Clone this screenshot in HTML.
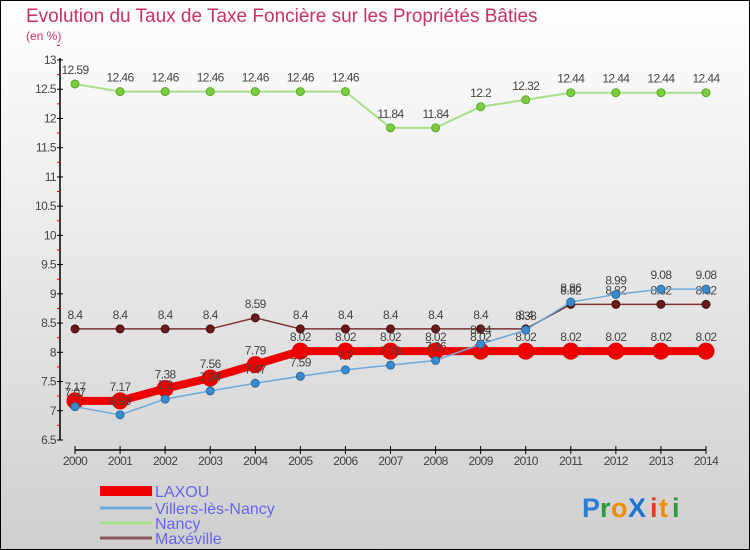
<!DOCTYPE html>
<html><head><meta charset="utf-8"><style>
body{margin:0;width:750px;height:550px;overflow:hidden}
svg{display:block;font-family:"Liberation Sans","DejaVu Sans",sans-serif}
</style></head><body>
<svg id="c" width="750" height="550" xmlns="http://www.w3.org/2000/svg">
<defs><linearGradient id="bg" x1="0" y1="0" x2="0" y2="1"><stop offset="0" stop-color="#ffffff"/><stop offset="1" stop-color="#cfcfcf"/></linearGradient></defs>
<rect x="0.5" y="0.5" width="749" height="549" fill="url(#bg)" stroke="#000"/>
<text x="26" y="22" font-size="19" fill="#c8325f">Evolution du Taux de Taxe Foncière sur les Propriétés Bâties</text>
<text x="26" y="40" font-size="12" fill="#c8325f">(en %)</text>
<g id="axes"></g><g id="series"></g><g id="legend"></g>
<g font-size="27" font-weight="bold">
<text x="582" y="517" fill="#2a7fd4">P</text><text x="600" y="517" fill="#2a9a3a">r</text><text x="611" y="517" fill="#f28c00">o</text><text x="628" y="517" fill="#1a74d0">X</text><text x="650" y="517" fill="#e03a1a">i</text><text x="659" y="517" fill="#f28c00">t</text><text x="672" y="517" fill="#2a9a3a">i</text>
</g>
</svg>
<script>
const years=[2000,2001,2002,2003,2004,2005,2006,2007,2008,2009,2010,2011,2012,2013,2014];
const laxou=[7.17,7.17,7.38,7.56,7.79,8.02,8.02,8.02,8.02,8.02,8.02,8.02,8.02,8.02,8.02];
const villers=[7.07,6.93,7.2,7.34,7.47,7.59,7.7,7.78,7.86,8.14,8.38,8.86,8.99,9.08,9.08];
const nancy=[12.59,12.46,12.46,12.46,12.46,12.46,12.46,11.84,11.84,12.2,12.32,12.44,12.44,12.44,12.44];
const maxeville=[8.4,8.4,8.4,8.4,8.59,8.4,8.4,8.4,8.4,8.4,8.4,8.82,8.82,8.82,8.82];
const yTicks=[6.5,7,7.5,8,8.5,9,9.5,10,10.5,11,11.5,12,12.5,13];
const NS="http://www.w3.org/2000/svg";
const X=i=>75+i*(706-75)/(years.length-1);
const Y=v=>60+(13-v)*(440-60)/6.5;
function mk(t,a,p){const e=document.createElementNS(NS,t);for(const k in a)e.setAttribute(k,a[k]);p.appendChild(e);return e;}
const ax=document.getElementById('axes');
const yl=mk('line',{x1:60,y1:58,x2:60,y2:440,stroke:'#000','stroke-width':1.5},ax);


yTicks.forEach(v=>{
 mk('line',{x1:57,x2:63,y1:Y(v),y2:Y(v),stroke:'#000'},ax);
 mk('line',{x1:57,x2:60,y1:Y(v+0.25),y2:Y(v+0.25),stroke:'#e00'},ax);
 const t=mk('text',{x:56,y:Y(v)+4,'font-size':12,fill:'#444','text-anchor':'end','letter-spacing':'-0.6'},ax);t.textContent=v;
 
 
});
const xl=mk('line',{x1:75,y1:450,x2:706,y2:450,stroke:'#000','stroke-width':1.5},ax);


years.forEach((y,i)=>{
 mk('line',{x1:X(i),x2:X(i),y1:446,y2:454,stroke:'#000'},ax);
 const t=mk('text',{x:X(i),y:465,'font-size':12,fill:'#444','text-anchor':'middle','letter-spacing':'-0.6'},ax);t.textContent=y;
 
 
});
const sg=document.getElementById('series');
function series(name,vals,color,lw,r,dot,stroke){
 const g=mk('g',{},sg);
 
 
 const p=mk('polyline',{points:vals.map((v,i)=>X(i)+','+Y(v)).join(' '),fill:'none',stroke:color,'stroke-width':lw},g);
 
 
 vals.forEach((v,i)=>{
  const c=mk('circle',{cx:X(i),cy:Y(v),r:r,fill:dot,stroke:stroke,'stroke-width':1},g);
  
  
  const t=mk('text',{x:X(i),y:Y(v)-10,'font-size':12,fill:'#444','text-anchor':'middle','letter-spacing':'-0.6'},g);t.textContent=v;
  
  
 });
}
series('nancy',nancy,'#a6e08a',2,4,'#7ccd3e','#5aa82a');
series('maxeville',maxeville,'#7a3333',1.5,4,'#6a1a1a','#4a1010');
series('laxou',laxou,'#ee0000',8,8,'#ee0000','#dd0000');
series('villers',villers,'#6fa8d8',1.5,4,'#3a8cd0','#2a6aa0');
const lg=document.getElementById('legend');
const leg=[['LAXOU','#ee0000',10],['Villers-lès-Nancy','#6fa8d8',3],['Nancy','#a6e08a',3],['Maxéville','#8a5a5a',3]];
const ly=[491,508,523,538];
leg.forEach((l,i)=>{
 const g=mk('g',{},lg);
 
 
 mk('line',{x1:100,x2:152,y1:ly[i],y2:ly[i],stroke:l[1],'stroke-width':l[2]},g);
 const t=mk('text',{x:155,y:ly[i]+6,'font-size':16,fill:'#6666ee'},g);t.textContent=l[0];
});
</script>
</body></html>
